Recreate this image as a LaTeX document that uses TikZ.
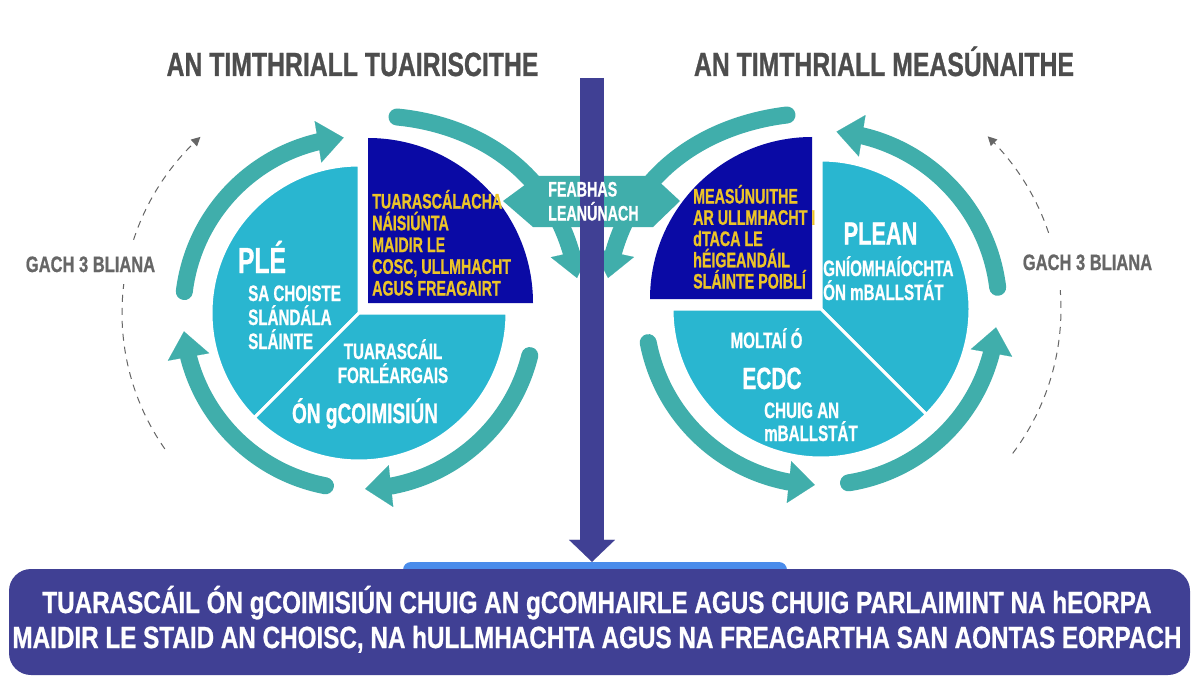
\documentclass[tikz,border=0pt]{standalone}
\usepackage{fontspec}
\setmainfont{Liberation Sans}[FakeStretch=0.68, BoldFeatures={FakeBold=0.8}]
\newfontfamily\midcond{Liberation Sans}[FakeStretch=0.74, BoldFeatures={FakeBold=0.8}]
\newfontfamily\widecond{Liberation Sans}[FakeStretch=0.79, BoldFeatures={FakeBold=0.8}]
\usetikzlibrary{arrows.meta,bending}

\definecolor{ringteal}{RGB}{64,174,171}
\definecolor{pielight}{RGB}{41,182,208}
\definecolor{piedark}{RGB}{10,10,165}
\definecolor{goldtxt}{RGB}{236,196,40}
\definecolor{barpurple}{RGB}{64,64,148}
\definecolor{tabblue}{RGB}{74,140,235}
\definecolor{headgray}{RGB}{77,77,77}
\definecolor{notegray}{RGB}{102,102,102}

\begin{document}
\begin{tikzpicture}[
		x=1pt,y=1pt,
		ring/.style = {color=ringteal, line width=17pt, line cap=round,
			-{Triangle[width=42pt,length=26pt,line width=0.1pt]}},
		every3/.style = {color=notegray, line width=1pt, dash pattern=on 7pt off 6pt},
		mainflow/.style = {color=barpurple, line width=24pt,
			-{Triangle[width=46pt,length=22pt,line width=0.1pt]}},
		heading/.style = {anchor=base, inner sep=0, text=headgray, font=\midcond\bfseries\fontsize{33.5}{36}\selectfont},
		note/.style = {anchor=base, inner sep=0, text=notegray, font=\midcond\bfseries\fontsize{22.3}{24}\selectfont},
		bigtxt/.style = {anchor=base, inner sep=0, text=white, font=\bfseries\fontsize{#1}{#1}\selectfont},
		pietxt/.style = {anchor=base west, inner sep=0, text=white, align=left, font=\bfseries\fontsize{22.3}{24}\selectfont},
		goldblock/.style = {anchor=base west, inner sep=0, text=goldtxt, align=left, font=\bfseries\fontsize{21}{#1}\selectfont}
	]
	\fill[white] (0,0) rectangle (1192,-682);
	\useasboundingbox (0,0) rectangle (1192,-682);

	\coordinate (L) at (359,-313);
	\coordinate (R) at (821,-309);

	% dashed three-year loops
	\draw[every3] ([shift={(215:237)}]L) arc[start angle=215, end angle=173, radius=237];
	\draw[every3, -{Triangle[width=9pt,length=9pt]}] ([shift={(162:237)}]L) arc[start angle=162, end angle=132, radius=237];
	\draw[every3] ([shift={(-37:240)}]R) arc[start angle=-37, end angle=4.5, radius=240];
	\draw[every3, -{Triangle[width=9pt,length=9pt]}] ([shift={(18.5:240)}]R) arc[start angle=18.5, end angle=46, radius=240];

	% left cycle
	\draw[ring] ([shift={(173:176)}]L) arc[start angle=173, end angle=95, radius=176];
	\draw[ring] ([shift={(-14:176)}]L) arc[start angle=-14, end angle=-88, radius=176];
	\draw[ring] ([shift={(259:176)}]L) arc[start angle=259, end angle=186, radius=176];
	\draw[ring] (397,-117) .. controls (480,-125) and (560,-175) .. (577,-278);

	% right cycle
	\draw[ring] ([shift={(7:178)}]R) arc[start angle=7, end angle=85, radius=178];
	\draw[ring] ([shift={(191:176)}]R) arc[start angle=191, end angle=268, radius=176];
	\draw[ring] ([shift={(-81:176)}]R) arc[start angle=-81, end angle=-6, radius=176];
	\draw[ring] (787,-115) .. controls (704,-125) and (624,-175) .. (608,-278);

	% improvement band
	\fill[ringteal] (503,-201) -- (537,-176) -- (653,-176) -- (680,-201) -- (653,-227) -- (533,-227) -- cycle;

	% left pie
	\filldraw[fill=pielight, draw=white, line width=3pt] (L) -- ++(90:148) arc[start angle=90, end angle=225, radius=148] -- cycle;
	\filldraw[fill=pielight, draw=white, line width=3pt] (L) -- ++(225:148) arc[start angle=225, end angle=360, radius=148] -- cycle;
	\fill[piedark] (368,-303) -- ++(0:165) arc[start angle=0, end angle=90, radius=165] -- cycle;

	% right pie
	\filldraw[fill=pielight, draw=white, line width=3pt] (R) -- ++(-45:149) arc[start angle=-45, end angle=90, radius=149] -- cycle;
	\filldraw[fill=pielight, draw=white, line width=3pt] (R) -- ++(180:149) arc[start angle=180, end angle=315, radius=149] -- cycle;
	\fill[piedark] (812,-299) -- ++(90:162) arc[start angle=90, end angle=180, radius=162] -- cycle;

	% report box
	\node (tab) [fill=tabblue, rounded corners=8pt, minimum width=384pt, minimum height=16pt, inner sep=0] at (595,-570) {};
	\node (report) [fill=barpurple, rounded corners=22pt, minimum width=1181pt, minimum height=106pt, inner sep=0] at (599.5,-622) {};
	\coordinate (barTop) at (592,-78);
	\draw [mainflow] (barTop) -- (barTop |- tab.north);

	% headings
	\node (headL) [heading] at (352.5,-76) {AN TIMTHRIALL TUAIRISCITHE};
	\node (headR) [heading] at (884,-76) {AN TIMTHRIALL MEASÚNAITHE};
	\node (gachL) [note, fill=white, inner ysep=6pt] at (90.5,-272) {GACH 3 BLIANA};
	\node (gachR) [note] at (1087.5,-270) {GACH 3 BLIANA};

	% left pie texts
	\node (ple) [bigtxt=36.3] at (262,-273) {PLÉ};
	\node (coiste) [pietxt] at (248,-349) {SA CHOISTE\\SLÁNDÁLA\\SLÁINTE};
	\node (natl) [goldblock=21.75] at (372,-295.5) {TUARASCÁLACHA\\NÁISIÚNTA\\MAIDIR LE\\COSC, ULLMHACHT\\AGUS FREAGAIRT};
	\node (forl) [pietxt, anchor=base, align=center] at (393,-383) {TUARASCÁIL\\FORLÉARGAIS};
	\node (coim) [bigtxt=28] at (365,-423) {ÓN gCOIMISIÚN};

	% right pie texts
	\node (meas) [goldblock=21.25] at (693,-288.5) {MEASÚNUITHE\\AR ULLMHACHT I\\dTACA LE\\hÉIGEANDÁIL\\SLÁINTE POIBLÍ};
	\node (plean) [bigtxt=32] at (880.5,-244.5) {PLEAN};
	\node (gniomh) [pietxt] at (823,-300) {GNÍOMHAÍOCHTA\\ÓN mBALLSTÁT};
	\node (moltai) [bigtxt=22.3] at (766.5,-348) {MOLTAÍ Ó};
	\node (ecdc) [bigtxt=30.7] at (772,-389) {ECDC};
	\node (chuig) [pietxt, font=\bfseries\fontsize{22.3}{23}\selectfont] at (764,-441) {CHUIG AN\\mBALLSTÁT};

	% band text
	\node (feab) [pietxt, font=\bfseries\fontsize{21}{24}\selectfont] at (548,-220.5) {FEABHAS\\LEANÚNACH};

	% report text
	\node (reptxt) [anchor=base, inner sep=0, text=white, align=center, font=\widecond\bfseries\fontsize{30.7}{35}\selectfont] at (597,-648)
		{TUARASCÁIL ÓN gCOIMISIÚN CHUIG AN gCOMHAIRLE AGUS CHUIG PARLAIMINT NA hEORPA\\
		MAIDIR LE STAID AN CHOISC, NA hULLMHACHTA AGUS NA FREAGARTHA SAN AONTAS EORPACH};
\end{tikzpicture}
\end{document}
